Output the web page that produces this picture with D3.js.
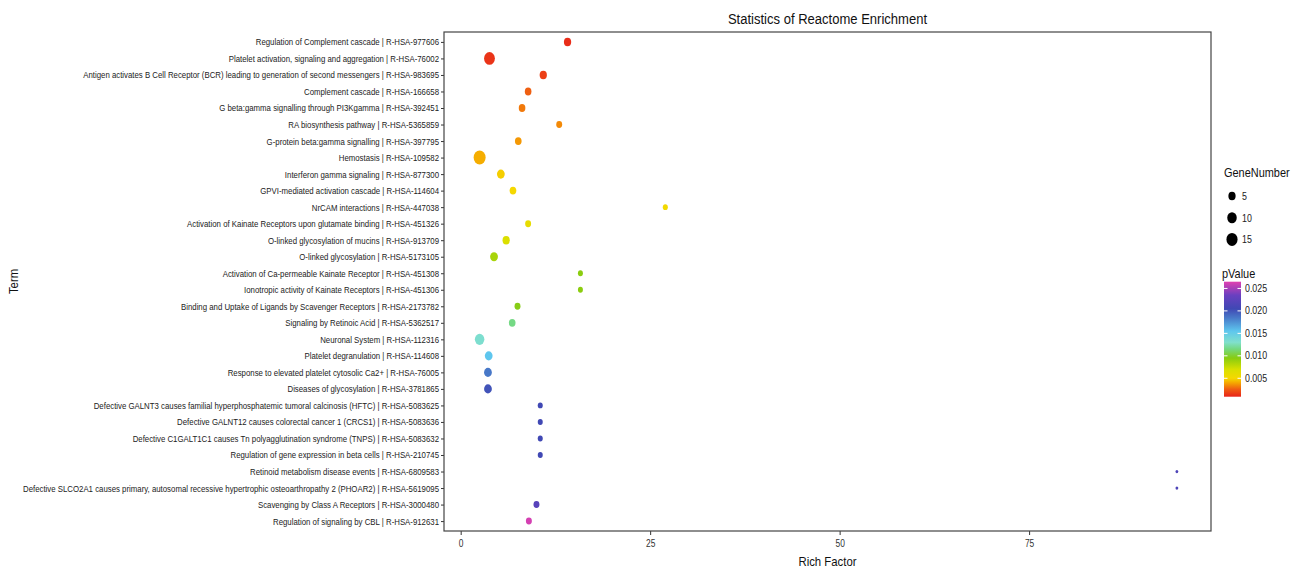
<!DOCTYPE html>
<html><head><meta charset="utf-8">
<script src="https://cdn.jsdelivr.net/npm/d3@7"></script>
<style>html,body{margin:0;padding:0;background:#fff;} text{font-family:"Liberation Sans",Arial,Helvetica,sans-serif;}</style>
</head><body><svg id="c" width="1308" height="570"></svg>
<script>
const terms = [
"Regulation of Complement cascade | R-HSA-977606",
"Platelet activation, signaling and aggregation | R-HSA-76002",
"Antigen activates B Cell Receptor (BCR) leading to generation of second messengers | R-HSA-983695",
"Complement cascade | R-HSA-166658",
"G beta:gamma signalling through PI3Kgamma | R-HSA-392451",
"RA biosynthesis pathway | R-HSA-5365859",
"G-protein beta:gamma signalling | R-HSA-397795",
"Hemostasis | R-HSA-109582",
"Interferon gamma signaling | R-HSA-877300",
"GPVI-mediated activation cascade | R-HSA-114604",
"NrCAM interactions | R-HSA-447038",
"Activation of Kainate Receptors upon glutamate binding | R-HSA-451326",
"O-linked glycosylation of mucins | R-HSA-913709",
"O-linked glycosylation | R-HSA-5173105",
"Activation of Ca-permeable Kainate Receptor | R-HSA-451308",
"Ionotropic activity of Kainate Receptors | R-HSA-451306",
"Binding and Uptake of Ligands by Scavenger Receptors | R-HSA-2173782",
"Signaling by Retinoic Acid | R-HSA-5362517",
"Neuronal System | R-HSA-112316",
"Platelet degranulation  | R-HSA-114608",
"Response to elevated platelet cytosolic Ca2+ | R-HSA-76005",
"Diseases of glycosylation | R-HSA-3781865",
"Defective GALNT3 causes familial hyperphosphatemic tumoral calcinosis (HFTC) | R-HSA-5083625",
"Defective GALNT12 causes colorectal cancer 1 (CRCS1) | R-HSA-5083636",
"Defective C1GALT1C1 causes Tn polyagglutination syndrome (TNPS) | R-HSA-5083632",
"Regulation of gene expression in beta cells | R-HSA-210745",
"Retinoid metabolism disease events | R-HSA-6809583",
"Defective SLCO2A1 causes primary, autosomal recessive hypertrophic osteoarthropathy 2 (PHOAR2) | R-HSA-5619095",
"Scavenging by Class A Receptors | R-HSA-3000480",
"Regulation of signaling by CBL | R-HSA-912631"
];
const richFactor = [14.1,3.8,10.9,8.9,8.1,13.0,7.6,2.5,5.3,6.9,27.0,8.9,6.0,4.4,15.8,15.8,7.5,6.8,2.5,3.7,3.6,3.6,10.5,10.5,10.5,10.5,94.5,94.5,10.0,9.0];
const geneNumber = [5,14,5,4,4,3,4,18,6,4,2,3,5,6,2,2,3,4,10,6,6,6,2,2,2,2,1,1,3,3];
const pValue = [0.0012,0.0014,0.0017,0.0026,0.0031,0.0034,0.0037,0.0041,0.0048,0.0050,0.0052,0.0060,0.0068,0.0085,0.0094,0.0094,0.0096,0.0116,0.0132,0.0155,0.0185,0.0200,0.0205,0.0205,0.0205,0.0205,0.0215,0.0215,0.0222,0.0262];
const xTicks = [0,25,50,75];
const sizeBreaks = [5,10,15];
const pTicks = [0.005,0.010,0.015,0.020,0.025];
const pStops = [0.0009,0.0025,0.0040,0.0050,0.0070,0.0095,0.0115,0.0130,0.0155,0.0185,0.0205,0.0235,0.0265];
const pColors = ["#e8231a","#ef5a12","#f5a800","#f5d800","#d8e000","#88cc10","#74d880","#80e0cc","#5ec6ee","#4878c8","#4048b4","#6a40c0","#e040b0"];

const svg = d3.select("#c");
const L=444, R=1211, T=32, B=531;
const x = d3.scaleLinear().domain([-2.2, 99.0]).range([L, R]);
const y = d3.scalePoint().domain(terms).range([T, B]).padding(0.6);
const gmin = d3.min(geneNumber), gmax = d3.max(geneNumber);
const rs = d3.scaleSqrt().domain([0, gmax-gmin]).range([1.4, 6.0]);
const r = n => rs(n-gmin);
const col = d3.scaleLinear().domain(pStops).range(pColors).clamp(true);
const asp = 1.17;

// title
svg.append("text").attr("x",(L+R)/2).attr("y",24).attr("text-anchor","middle")
  .attr("font-size",15.5).attr("fill","#111").text("Statistics of Reactome Enrichment");

// y axis
const ya = svg.append("g").attr("transform",`translate(${L},0)`).call(d3.axisLeft(y).tickSize(3).tickPadding(2));
ya.select(".domain").remove();
ya.selectAll(".tick line").attr("stroke","#333");
ya.selectAll(".tick text").attr("font-size",9.3).attr("fill","#222").attr("font-family","Liberation Sans, Arial, sans-serif");
// x axis
const xa = svg.append("g").attr("transform",`translate(0,${B})`).call(d3.axisBottom(x).tickValues(xTicks).tickSize(4).tickPadding(5));
xa.select(".domain").remove();
xa.selectAll(".tick line").attr("stroke","#333");
xa.selectAll(".tick text").attr("font-size",10).attr("fill","#333").attr("font-family","Liberation Sans, Arial, sans-serif");

// panel border
svg.append("rect").attr("x",L).attr("y",T).attr("width",R-L).attr("height",B-T)
  .attr("fill","none").attr("stroke","#444").attr("stroke-width",1.2);

// points
svg.append("g").selectAll("ellipse").data(terms).join("ellipse")
  .attr("cx",(d,i)=>x(richFactor[i])).attr("cy",d=>y(d))
  .attr("rx",(d,i)=>r(geneNumber[i])).attr("ry",(d,i)=>r(geneNumber[i])*asp)
  .attr("fill",(d,i)=>col(pValue[i]));

// axis titles
svg.append("text").attr("x",(L+R)/2).attr("y",566).attr("text-anchor","middle").attr("font-size",13.5).attr("fill","#111").text("Rich Factor");
svg.append("text").attr("transform",`translate(18,${(T+B)/2}) rotate(-90)`).attr("text-anchor","middle").attr("font-size",13.5).attr("fill","#111").text("Term");

// size legend
const lg = svg.append("g");
lg.append("text").attr("x",1224).attr("y",177).attr("font-size",13).attr("fill","#111").text("GeneNumber");
sizeBreaks.forEach((b,i)=>{
  const cy = 196 + i*21.7;
  lg.append("ellipse").attr("cx",1232).attr("cy",cy).attr("rx",r(b)).attr("ry",r(b)*asp).attr("fill","#000");
  lg.append("text").attr("x",1242).attr("y",cy+4).attr("font-size",10.5).attr("fill","#222").text(b);
});
// color legend
lg.append("text").attr("x",1222).attr("y",278).attr("font-size",13).attr("fill","#111").text("pValue");
const cy0 = 396.7, cy1 = 281.7;
const ly = d3.scaleLinear().domain([pStops[0], pStops[pStops.length-1]]).range([cy0, cy1]);
const grad = svg.append("defs").append("linearGradient").attr("id","pg").attr("x1",0).attr("y1",1).attr("x2",0).attr("y2",0);
pStops.forEach((p,i)=>grad.append("stop").attr("offset",(p-pStops[0])/(pStops[pStops.length-1]-pStops[0])).attr("stop-color",pColors[i]));
lg.append("rect").attr("x",1224).attr("y",cy1).attr("width",17).attr("height",cy0-cy1).attr("fill","url(#pg)");
pTicks.forEach(p=>{
  const yy = ly(p);
  lg.append("line").attr("x1",1224).attr("x2",1227.5).attr("y1",yy).attr("y2",yy).attr("stroke","#fff");
  lg.append("line").attr("x1",1237.5).attr("x2",1241).attr("y1",yy).attr("y2",yy).attr("stroke","#fff");
  lg.append("text").attr("x",1245).attr("y",yy+3.5).attr("font-size",10.5).attr("fill","#222").text(d3.format(".3f")(p));
});

// horizontal compression of all text to match narrow look
const longest = ya.selectAll(".tick text").nodes().reduce((a,n)=>Math.max(a,n.getComputedTextLength()),0);
const sx = 416/longest;
svg.selectAll("text").each(function(){
  const len = this.getComputedTextLength();
  d3.select(this).attr("textLength",len*sx).attr("lengthAdjust","spacingAndGlyphs");
});
</script></body></html>
